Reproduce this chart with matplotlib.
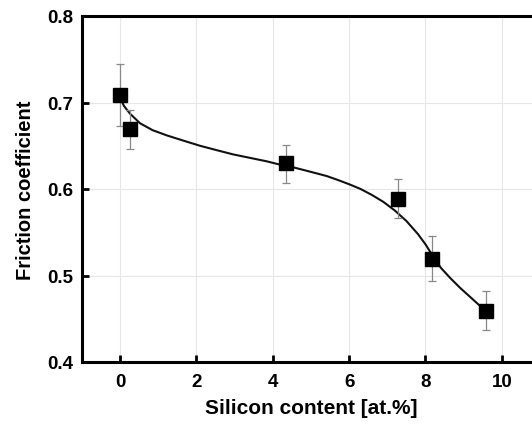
import matplotlib
matplotlib.use("Agg")
import matplotlib.pyplot as plt

# measured points
si_content = [0.0, 0.26, 4.35, 7.29, 8.17, 9.58]
friction = [0.709, 0.669, 0.630, 0.589, 0.519, 0.459]
err_up = [0.035, 0.022, 0.021, 0.022, 0.027, 0.023]
err_down = [0.036, 0.023, 0.023, 0.022, 0.025, 0.022]

# fitted curve
fit_x = [0.0, 0.1, 0.26, 0.52, 0.85, 1.22, 1.65, 2.09, 2.52, 2.96, 3.4,
         3.84, 4.2, 4.54, 4.98, 5.41, 5.7, 6.0, 6.3, 6.6, 6.9, 7.2, 7.5,
         7.8, 8.0, 8.2, 8.4, 8.65, 8.9, 9.15, 9.4, 9.58]
fit_y = [0.705, 0.696, 0.687, 0.676, 0.668, 0.662, 0.656, 0.650, 0.645, 0.640, 0.636,
         0.632, 0.628, 0.625, 0.620, 0.615, 0.6105, 0.6055, 0.600, 0.593, 0.585, 0.575, 0.563,
         0.548, 0.536, 0.522, 0.509, 0.497, 0.486, 0.476, 0.466, 0.459]

plt.rcParams['font.family'] = ['Liberation Sans', 'DejaVu Sans']
plt.rcParams['font.weight'] = 'bold'

fig = plt.figure(figsize=(5.32, 4.27), dpi=100)
ax = fig.add_axes([82 / 532, 64 / 427, 458 / 532, 346 / 427])

ax.grid(True, color='#e6e6e6', linewidth=0.8, zorder=0)
ax.plot(fit_x, fit_y, color='#111111', linewidth=1.5, zorder=2)
ax.errorbar(si_content, friction, yerr=[err_down, err_up], fmt='none',
            ecolor='#888888', elinewidth=0.9, capsize=3, capthick=0.9, zorder=3)
ax.plot(si_content, friction, 's', color='black', markersize=9.5, zorder=4)

ax.set_xlim(-1, 11)
ax.set_ylim(0.4, 0.8)
ax.set_xticks([0, 2, 4, 6, 8, 10])
ax.set_yticks([0.4, 0.5, 0.6, 0.7, 0.8])
ax.set_yticklabels(['0.4', '0.5', '0.6', '0.7', '0.8'])

for s in ax.spines.values():
    s.set_linewidth(2.2)
ax.tick_params(direction='in', length=5, width=2, labelsize=13.5)
ax.tick_params(axis='x', pad=8)
ax.tick_params(axis='y', pad=6)

ax.set_xlabel('Silicon content [at.%]', fontsize=15, fontweight='bold', labelpad=6)
ax.set_ylabel('Friction coefficient', fontsize=14.5, fontweight='bold', labelpad=9)

fig.savefig('out.png', dpi=100)
